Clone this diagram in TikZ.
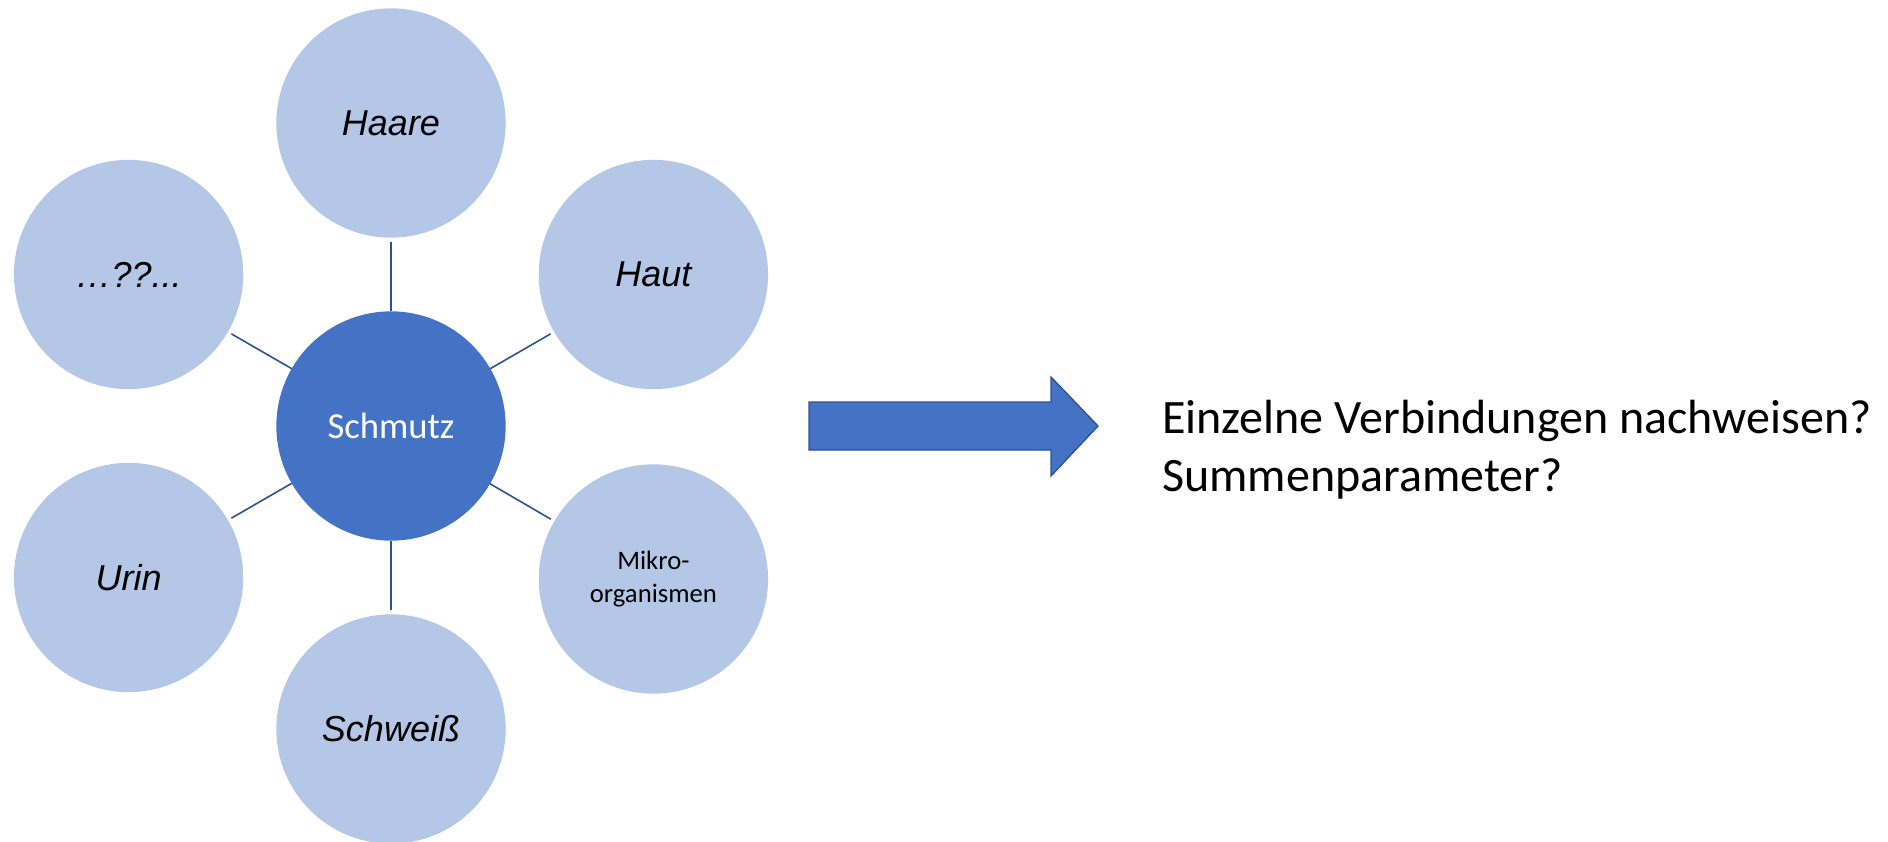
\documentclass[tikz,border=0pt]{standalone}
\usepackage{fontspec}
\setmainfont{Carlito}
\newfontfamily\arialf{Liberation Sans}
\definecolor{lightblue}{HTML}{B4C7E7}
\definecolor{midblue}{HTML}{4472C4}
\definecolor{darkblue}{HTML}{2F528F}
\begin{document}
\begin{tikzpicture}[x=0.75pt,y=-0.75pt,
  bubble/.style={circle,fill=lightblue,minimum size=172pt,inner sep=0pt,outer sep=0pt,
    font=\arialf\itshape\fontsize{27}{32}\selectfont},
  hub/.style={circle,fill=midblue,minimum size=172pt,inner sep=0pt,outer sep=0pt,
    text=white,font=\fontsize{27.5}{33}\selectfont},
  spoke/.style={draw=darkblue,line width=1.2pt,shorten <=3pt}]
\useasboundingbox (0,0) rectangle (1888,842);

% hub and the six surrounding bubbles
\node[hub] (hub) at (391,426) {Schmutz};
\node[bubble] (haare) at (391,123) {Haare};
\node[bubble] (haut) at (653.4,274.5) {Haut};
\node[bubble,font=\fontsize{20}{25}\selectfont,align=center] (mikro) at (653.4,579) {Mikro-\\organismen};
\node[bubble] (schweiss) at (391,729) {Schweiß};
\node[bubble] (urin) at (128.6,577.5) {Urin};
\node[bubble] (more) at (128.6,274.5) {…??...};

% spokes from each bubble to the hub
\foreach \b in {haare,haut,mikro,schweiss,urin,more}
  \draw[spoke] (\b) -- (hub);

% block arrow
\draw[fill=midblue,draw=darkblue,line width=1pt]
  (809,402) -- (1051,402) -- (1051,377) -- (1098,426) -- (1051,476)
  -- (1051,450) -- (809,450) -- cycle;

% question text (base anchor sits on the last line)
\node[anchor=base west,align=left,inner sep=0pt,
  font=\fontsize{36}{43}\selectfont] (question) at (1162,491)
  {Einzelne Verbindungen nachweisen?\\Summenparameter?};
\end{tikzpicture}
\end{document}
